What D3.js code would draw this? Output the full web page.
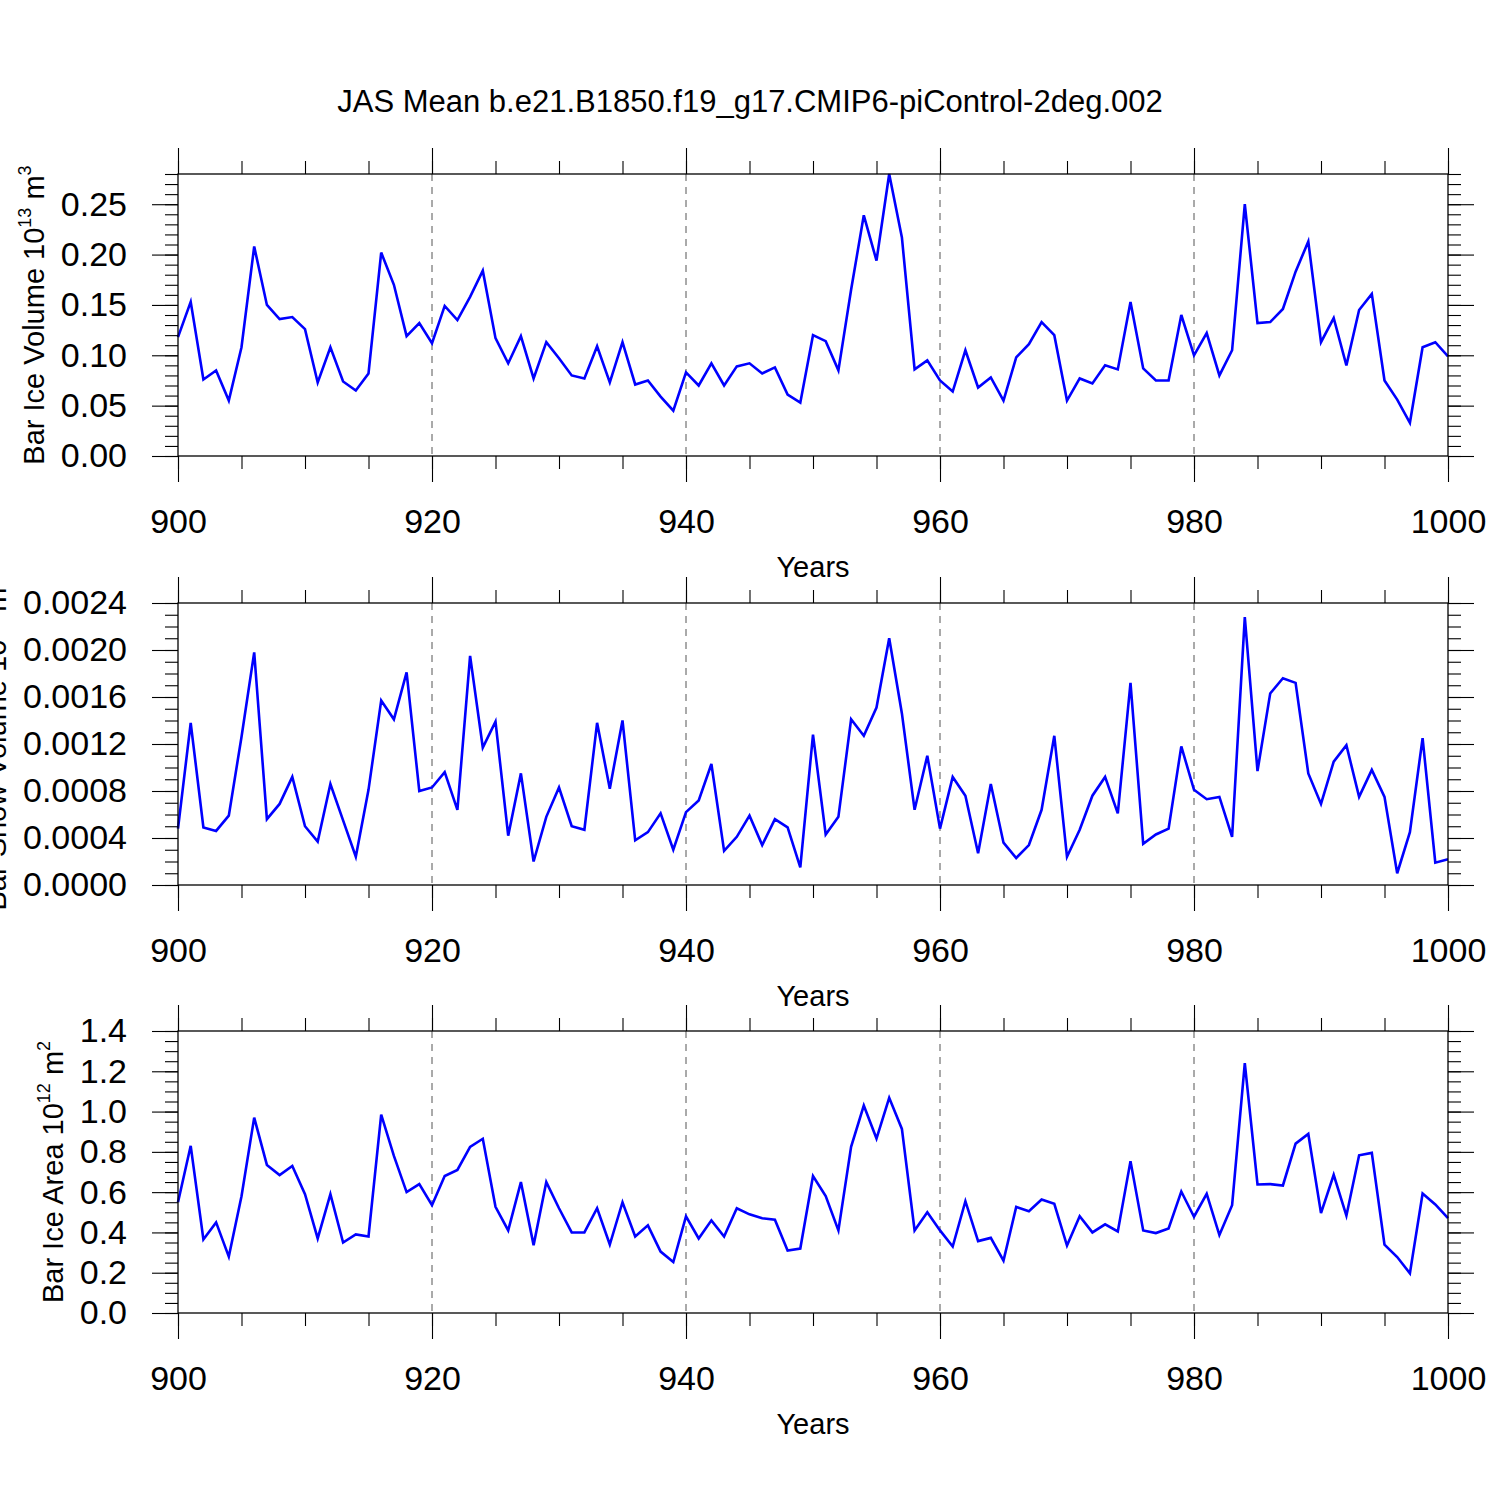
<!DOCTYPE html>
<html>
<head>
<meta charset="utf-8">
<script src="https://cdn.jsdelivr.net/npm/d3@7"></script>
<style>
  body { margin: 0; background: #fff; }
  text { font-family: "Liberation Sans", Arial, Helvetica, sans-serif; fill: #000; }
</style>
</head>
<body>
<svg id="chart" width="1500" height="1500"></svg>
<script>
// years on the x axis
var years = d3.range(900, 1001);

// JAS mean Barents ice volume (10^13 m^3)
var iceVolume = [
  0.118, 0.153, 0.076, 0.085, 0.055, 0.108, 0.208, 0.150, 0.136, 0.138,
  0.126, 0.073, 0.108, 0.074, 0.065, 0.082, 0.202, 0.170, 0.119, 0.132,
  0.112, 0.149, 0.135, 0.158, 0.184, 0.117, 0.092, 0.119, 0.077, 0.113,
  0.097, 0.080, 0.077, 0.109, 0.073, 0.113, 0.071, 0.075, 0.059, 0.045,
  0.083, 0.070, 0.092, 0.070, 0.089, 0.092, 0.082, 0.088, 0.061, 0.053,
  0.120, 0.114, 0.085, 0.165, 0.239, 0.194, 0.280, 0.217, 0.086, 0.095,
  0.075, 0.064, 0.105, 0.068, 0.078, 0.055, 0.098, 0.111, 0.133, 0.120,
  0.055, 0.077, 0.072, 0.090, 0.086, 0.153, 0.087, 0.075, 0.075, 0.140,
  0.100, 0.122, 0.080, 0.105, 0.250, 0.132, 0.133, 0.146, 0.183, 0.213,
  0.113, 0.137, 0.090, 0.145, 0.161, 0.075, 0.056, 0.033, 0.108, 0.113,
  0.099
];

// JAS mean Barents snow volume (10^13 m^3)
var snowVolume = [
  0.00048, 0.00138, 0.00049, 0.00046, 0.00059, 0.00126, 0.00198, 0.00056, 0.00069, 0.00092,
  0.00050, 0.00037, 0.00086, 0.00055, 0.00024, 0.00081, 0.00157, 0.00141, 0.00181, 0.00080,
  0.00083, 0.00096, 0.00064, 0.00195, 0.00117, 0.00139, 0.00042, 0.00095, 0.00020, 0.00058,
  0.00083, 0.00050, 0.00047, 0.00138, 0.00082, 0.00140, 0.00038, 0.00045, 0.00061, 0.00030,
  0.00062, 0.00072, 0.00103, 0.00029, 0.00041, 0.00059, 0.00034, 0.00056, 0.00049, 0.00015,
  0.00128, 0.00043, 0.00058, 0.00141, 0.00127, 0.00151, 0.00210, 0.00146, 0.00064, 0.00110,
  0.00048, 0.00092, 0.00076, 0.00027, 0.00086, 0.00036, 0.00023, 0.00034, 0.00064, 0.00127,
  0.00024, 0.00047, 0.00076, 0.00092, 0.00061, 0.00172, 0.00035, 0.00043, 0.00048, 0.00118,
  0.00081, 0.00073, 0.00075, 0.00041, 0.00228, 0.00097, 0.00163, 0.00176, 0.00172, 0.00095,
  0.00069, 0.00105, 0.00119, 0.00075, 0.00098, 0.00075, 0.00010, 0.00045, 0.00125, 0.00019,
  0.00022
];

// JAS mean Barents ice area (10^12 m^2)
var iceArea = [
  0.55, 0.83, 0.365, 0.45, 0.28, 0.58, 0.97, 0.735, 0.685, 0.73,
  0.59, 0.37, 0.59, 0.35, 0.39, 0.38, 0.985, 0.78, 0.60, 0.64,
  0.535, 0.68, 0.71, 0.825, 0.865, 0.527, 0.41, 0.65, 0.337, 0.65,
  0.52, 0.40, 0.40, 0.52, 0.34, 0.55, 0.38, 0.435, 0.305, 0.253,
  0.48, 0.37, 0.46, 0.38, 0.52, 0.49, 0.47, 0.463, 0.31, 0.32,
  0.68, 0.58, 0.41, 0.825, 1.03, 0.866, 1.068, 0.914, 0.41, 0.50,
  0.41, 0.33, 0.555, 0.357, 0.373, 0.26, 0.527, 0.505, 0.563, 0.542,
  0.335, 0.48, 0.40, 0.44, 0.405, 0.754, 0.41, 0.397, 0.42, 0.603,
  0.478, 0.592, 0.387, 0.535, 1.241, 0.638, 0.64, 0.633, 0.841, 0.889,
  0.496, 0.686, 0.483, 0.783, 0.795, 0.339, 0.278, 0.197, 0.593, 0.539,
  0.471
];

// tick labels
var xTicks = [900, 920, 940, 960, 980, 1000];
var xMinor = d3.range(900, 1001, 5);
var gridYears = [920, 940, 960, 980];
var volumeTicks = [0, 0.05, 0.10, 0.15, 0.20, 0.25];
var snowTicks = [0, 0.0004, 0.0008, 0.0012, 0.0016, 0.0020, 0.0024];
var areaTicks = [0, 0.2, 0.4, 0.6, 0.8, 1.0, 1.2, 1.4];

var title = "JAS Mean b.e21.B1850.f19_g17.CMIP6-piControl-2deg.002";

var panels = [
  { top: 174, values: iceVolume, max: 0.28, ticks: volumeTicks,
    minor: d3.range(0, 29).map(function(i) { return i * 0.01; }),
    fmt: ".2f", label: "Bar Ice Volume 10", exp: "13", unit: " m", unitExp: "3" },
  { top: 603, values: snowVolume, max: 0.0024, ticks: snowTicks,
    minor: d3.range(0, 25).map(function(i) { return i * 0.0001; }),
    fmt: ".4f", label: "Bar Snow Volume 10", exp: "13", unit: " m", unitExp: "3" },
  { top: 1031, values: iceArea, max: 1.4, ticks: areaTicks,
    minor: d3.range(0, 29).map(function(i) { return i * 0.05; }),
    fmt: ".1f", label: "Bar Ice Area 10", exp: "12", unit: " m", unitExp: "2" }
];

var left = 178, right = 1448, ph = 282;
var major = 26, minorLen = 13;

var svg = d3.select("#chart");
svg.append("rect").attr("width", 1500).attr("height", 1500).attr("fill", "#fff");

svg.append("text")
  .attr("x", 750).attr("y", 112)
  .attr("text-anchor", "middle")
  .attr("font-size", 31)
  .text(title);

var x = d3.scaleLinear().domain([900, 1000]).range([left, right]);

function styleAxis(sel, size) {
  sel.select(".domain").remove();
  sel.attr("font-family", null).attr("font-size", size);
  sel.selectAll("line").attr("stroke", "#000").attr("stroke-width", 1.1);
}

panels.forEach(function(p) {
  var bottom = p.top + ph;
  var y = d3.scaleLinear().domain([0, p.max]).range([bottom, p.top]);
  var g = svg.append("g");

  // dashed reference lines
  g.selectAll(".grid")
    .data(gridYears)
    .enter()
    .append("line")
    .attr("x1", function(d) { return x(d); })
    .attr("x2", function(d) { return x(d); })
    .attr("y1", p.top)
    .attr("y2", bottom)
    .attr("stroke", "#555")
    .attr("stroke-width", 1)
    .attr("stroke-dasharray", "7,6");

  // the series
  var line = d3.line()
    .x(function(d) { return x(d[0]); })
    .y(function(d) { return y(d[1]); });
  g.append("path")
    .datum(years.map(function(yr, i) { return [yr, p.values[i]]; }))
    .attr("d", line)
    .attr("fill", "none")
    .attr("stroke", "#0000ff")
    .attr("stroke-width", 2.6);

  // frame
  g.append("rect")
    .attr("x", left).attr("y", p.top)
    .attr("width", right - left).attr("height", ph)
    .attr("fill", "none")
    .attr("stroke", "#000")
    .attr("stroke-width", 1.3);

  // minor ticks
  g.append("g").attr("transform", "translate(0," + bottom + ")")
    .call(d3.axisBottom(x).tickValues(xMinor).tickSize(minorLen).tickSizeOuter(0).tickFormat(""))
    .call(styleAxis, 10);
  g.append("g").attr("transform", "translate(0," + p.top + ")")
    .call(d3.axisTop(x).tickValues(xMinor).tickSize(minorLen).tickSizeOuter(0).tickFormat(""))
    .call(styleAxis, 10);
  g.append("g").attr("transform", "translate(" + left + ",0)")
    .call(d3.axisLeft(y).tickValues(p.minor).tickSize(minorLen).tickSizeOuter(0).tickFormat(""))
    .call(styleAxis, 10);
  g.append("g").attr("transform", "translate(" + right + ",0)")
    .call(d3.axisRight(y).tickValues(p.minor).tickSize(minorLen).tickSizeOuter(0).tickFormat(""))
    .call(styleAxis, 10);

  // major ticks and labels
  g.append("g").attr("transform", "translate(0," + bottom + ")")
    .call(d3.axisBottom(x).tickValues(xTicks).tickSize(major).tickSizeOuter(0)
      .tickPadding(27).tickFormat(d3.format("d")))
    .call(styleAxis, 34);
  g.append("g").attr("transform", "translate(0," + p.top + ")")
    .call(d3.axisTop(x).tickValues(xTicks).tickSize(major).tickSizeOuter(0).tickFormat(""))
    .call(styleAxis, 10);
  var yl = g.append("g").attr("transform", "translate(" + left + ",0)")
    .call(d3.axisLeft(y).tickValues(p.ticks).tickSize(major).tickSizeOuter(0)
      .tickPadding(25).tickFormat(d3.format(p.fmt)))
    .call(styleAxis, 34);
  g.append("g").attr("transform", "translate(" + right + ",0)")
    .call(d3.axisRight(y).tickValues(p.ticks).tickSize(major).tickSizeOuter(0).tickFormat(""))
    .call(styleAxis, 10);

  // x axis title
  g.append("text")
    .attr("x", (left + right) / 2)
    .attr("y", bottom + 121)
    .attr("text-anchor", "middle")
    .attr("font-size", 29)
    .text("Years");

  // y axis title, placed left of the widest tick label
  var widest = d3.max(yl.selectAll("text").nodes(), function(n) { return n.getComputedTextLength(); });
  var lx = left - major - 25 - widest - 17;
  var yt = g.append("text")
    .attr("transform", "translate(" + lx + "," + (p.top + bottom) / 2 + ") rotate(-90)")
    .attr("text-anchor", "middle")
    .attr("font-size", 29);
  yt.append("tspan").text(p.label);
  yt.append("tspan").attr("font-size", 18).attr("dy", -13).text(p.exp);
  yt.append("tspan").attr("dy", 13).text(p.unit);
  yt.append("tspan").attr("font-size", 18).attr("dy", -13).text(p.unitExp);
});
</script>
</body>
</html>
